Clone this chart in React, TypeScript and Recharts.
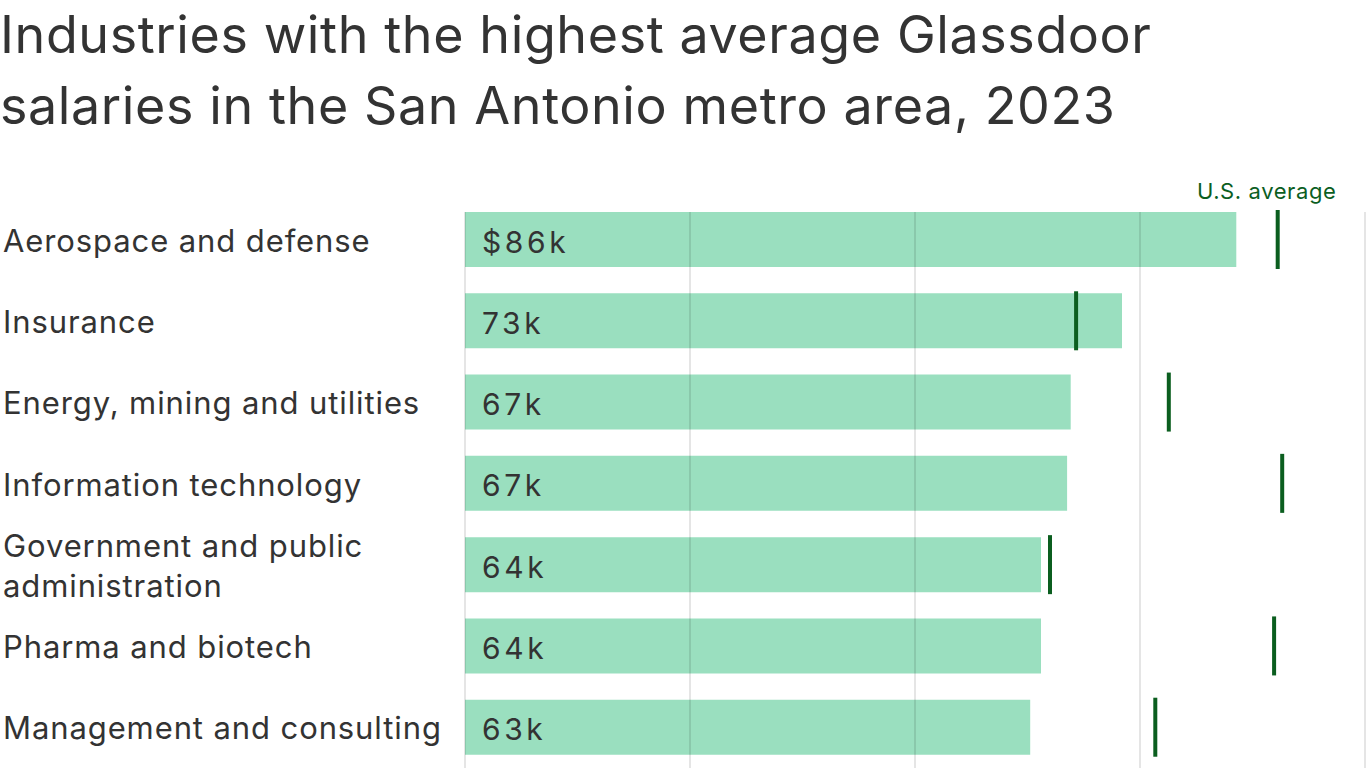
import React from "react";
import {
  BarChart,
  Bar,
  XAxis,
  YAxis,
  ReferenceLine,
  LabelList,
} from "recharts";

// --- Data ---

const industries = [
  "Aerospace and defense",
  "Insurance",
  "Energy, mining and utilities",
  "Information technology",
  "Government and public administration",
  "Pharma and biotech",
  "Management and consulting",
];

// San Antonio average salary, $k
const metroSalary = [85.7, 73, 67.3, 66.9, 64, 64, 62.8];
const salaryLabels = ["$86k", "73k", "67k", "67k", "64k", "64k", "63k"];

// U.S. average salary for the same industry, $k
const usSalary = [90.3, 67.9, 78.2, 90.8, 65, 89.9, 76.7];

const gridTicks = [0, 25, 50, 75, 100];

// label wrapping used on the category axis
const wrapped: Record<string, string[]> = {
  "Government and public administration": ["Government and public", "administration"],
};

const data = industries.map((name, i) => ({
  name,
  value: metroSalary[i],
  label: salaryLabels[i],
  us: usSalary[i],
}));

const FONT = "Inter, 'Noto Sans', sans-serif";
const TEXT = "#333333";
const BAR = "#9ADFBF";
const MARK = "#0B5E1F";

const CategoryTick = (props: any) => {
  const { y, payload } = props;
  const lines = wrapped[payload.value] || [payload.value];
  const lh = 40;
  const start = y - ((lines.length - 1) * lh) / 2;
  return (
    <text
      x={3}
      y={start}
      fill={TEXT}
      fontSize={31}
      letterSpacing={0.9}
      fontFamily={FONT}
      dominantBaseline="central"
      textAnchor="start"
    >
      {lines.map((l: string, i: number) => (
        <tspan key={i} x={3} y={start + i * lh}>
          {l}
        </tspan>
      ))}
    </text>
  );
};

const ValueLabel = (props: any) => {
  const { x, y, height, value } = props;
  return (
    <text
      x={x + 17}
      y={y + height / 2 + 2}
      fill={TEXT}
      fontSize={30}
      fontFamily={FONT}
      letterSpacing={3.6}
      dominantBaseline="central"
    >
      {value}
    </text>
  );
};

const Marker = (props: any) => {
  const { x, y, width, height, index } = props;
  const cx = x + width;
  return (
    <g>
      <rect x={cx - 2} y={y - 2} width={4} height={height + 4} fill={MARK} />
      {index === 0 && (
        <text
          x={cx - 11}
          y={y - 21}
          fill={MARK}
          fontSize={22}
          letterSpacing={0.6}
          fontFamily={FONT}
          textAnchor="middle"
          dominantBaseline="central"
        >
          U.S. average
        </text>
      )}
    </g>
  );
};

// grid line that starts at the top of the first bar instead of the plot top
const GridLine = (props: any) => {
  const { x1, y1, y2 } = props;
  const top = Math.min(y1, y2) + 13;
  const bottom = Math.max(y1, y2);
  return (
    <line
      x1={x1}
      x2={x1}
      y1={top}
      y2={bottom}
      stroke="rgba(0,0,0,0.1)"
      strokeWidth={2}
    />
  );
};

export default function App() {
  return (
    <div
      style={{
        position: "absolute",
        left: 0,
        top: 0,
        width: 1366,
        height: 768,
        overflow: "hidden",
        background: "#fff",
        fontFamily: FONT,
      }}
    >
      <div
        style={{
          position: "absolute",
          left: 0,
          top: -1,
          fontSize: 52,
          lineHeight: "71px",
          color: TEXT,
          letterSpacing: 0.6,
          whiteSpace: "nowrap",
        }}
      >
        Industries with the highest average Glassdoor
        <br />
        salaries in the San Antonio metro area, 2023
      </div>
      <BarChart
        width={1366}
        height={768}
        layout="vertical"
        data={data}
        margin={{ top: 199, right: 1, bottom: 0, left: 0 }}
        barCategoryGap={0}
        style={{ position: "absolute", left: 0, top: 0 }}
      >
        <XAxis type="number" domain={[0, 100]} ticks={gridTicks} hide />
        <YAxis
          yAxisId="main"
          type="category"
          dataKey="name"
          width={465}
          axisLine={false}
          tickLine={false}
          tick={<CategoryTick />}
        />
        <YAxis yAxisId="marker" type="category" dataKey="name" hide />
        <Bar
          yAxisId="main"
          dataKey="value"
          fill={BAR}
          barSize={55}
          isAnimationActive={false}
        >
          <LabelList dataKey="label" content={<ValueLabel />} />
        </Bar>
        {gridTicks.map((t) => (
          <ReferenceLine
            key={t}
            yAxisId="main"
            x={t}
            shape={(p: any) => <GridLine {...p} />}
          />
        ))}
        <Bar
          yAxisId="marker"
          dataKey="us"
          fill="none"
          barSize={55}
          shape={<Marker />}
          isAnimationActive={false}
        />
      </BarChart>
    </div>
  );
}
